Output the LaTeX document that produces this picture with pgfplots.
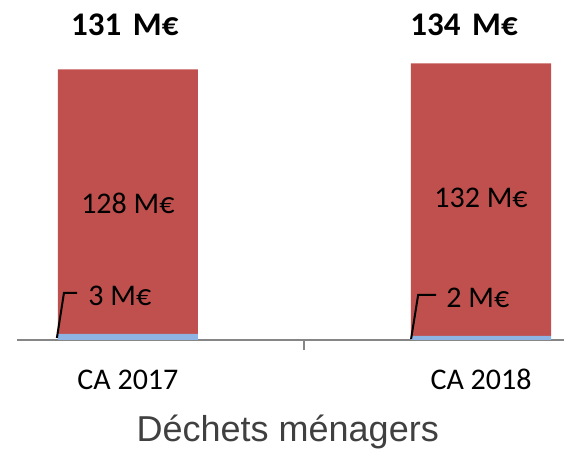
\documentclass[border=0pt]{standalone}
\usepackage{fontspec}
\setmainfont{Carlito}
\newfontfamily\arialf{Liberation Sans}
\usepackage{pgfplots}
\pgfplotsset{compat=1.18}
\definecolor{barred}{HTML}{C0504D}
\definecolor{barblue}{HTML}{8DB4E2}
\definecolor{axisgray}{HTML}{868686}
\definecolor{labelgray}{HTML}{404040}
% 1 px of the reference = 0.5pt
\begin{document}
\begin{tikzpicture}[x=0.5pt,y=0.5pt]
\begin{axis}[
    at={(0,0)}, anchor=south west,
    scale only axis,
    width=273.5pt, height=170pt,
    ybar stacked,
    bar width=0.397,
    xmin=-0.314, xmax=1.235,
    ymin=0, ymax=164.65,
    hide y axis,
    axis x line*=bottom,
    x axis line style={axisgray, line width=1pt},
    xtick={0,1},
    xticklabels={CA 2017, CA 2018},
    major tick length=0pt,
    xticklabel style={anchor=base, yshift=-24.5pt, font=\fontsize{15}{18}\selectfont},
    extra x ticks={0.5},
    extra x tick labels={},
    extra x tick style={major tick length=5pt, tick align=outside, tick style={axisgray, line width=1pt}},
    xlabel={Déchets ménagers},
    xlabel style={at={(rel axis cs:0.495,0)}, anchor=base, yshift=-51pt, font=\arialf\fontsize{18}{21}\selectfont, text=labelgray},
    clip=false,
    ]
\addplot+[fill=barblue, draw=none] coordinates {(0,3) (1,2)};
\addplot+[fill=barred, draw=none] coordinates {(0,128) (1,132)};
% anchor points for the labels, drawn after the axis so they sit on top
\coordinate (v1) at (axis cs:0,66.3);
\coordinate (v2) at (axis cs:1,68.8);
\coordinate (t1) at (axis cs:-0.0085,152.5);
\coordinate (t2) at (axis cs:0.952,152.5);
\coordinate (a0) at (axis cs:-0.201,1);
\coordinate (a1) at (axis cs:-0.181,22.8);
\coordinate (a2) at (axis cs:-0.144,22.8);
\coordinate (a3) at (axis cs:-0.113,21.3);
\coordinate (b0) at (axis cs:0.802,0.5);
\coordinate (b1) at (axis cs:0.822,21.8);
\coordinate (b2) at (axis cs:0.873,21.8);
\coordinate (b3) at (axis cs:0.901,20.3);
\end{axis}
\node[font=\fontsize{15}{18}\selectfont] at (v1) {128 M€};
\node[font=\fontsize{15}{18}\selectfont] at (v2) {132 M€};
\node[font=\bfseries\fontsize{16.5}{20}\selectfont] at (t1) {131\hspace{0.35em}M€};
\node[font=\bfseries\fontsize{16.5}{20}\selectfont] at (t2) {134\hspace{0.35em}M€};
\draw[black, line width=1pt] (a0) -- (a1) -- (a2);
\node[anchor=west, inner sep=0pt, font=\fontsize{15}{18}\selectfont] at (a3) {3 M€};
\draw[black, line width=1pt] (b0) -- (b1) -- (b2);
\node[anchor=west, inner sep=0pt, font=\fontsize{15}{18}\selectfont] at (b3) {2 M€};
\pgfresetboundingbox
\useasboundingbox (-17,-110) rectangle (547,340);
\end{tikzpicture}
\end{document}
